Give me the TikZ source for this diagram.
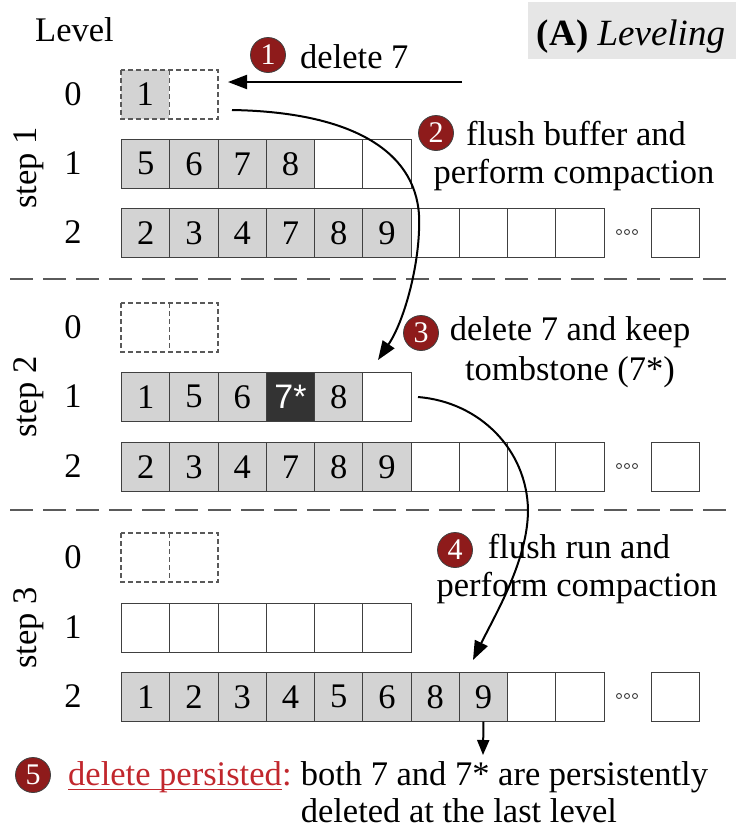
\documentclass[tikz,border=0pt]{standalone}
\usepackage{fontspec}
\setmainfont{Liberation Serif}
\setsansfont{Liberation Sans}
\usetikzlibrary{arrows.meta}
\definecolor{cellgray}{HTML}{D3D3D3}
\definecolor{celldark}{HTML}{333333}
\definecolor{cellline}{HTML}{404040}
\definecolor{circred}{HTML}{8E1B1B}
\definecolor{txtred}{HTML}{C1272D}
\definecolor{titlegray}{HTML}{E6E6E6}
\definecolor{sepgray}{HTML}{5A5A5A}
\begin{document}
\begin{tikzpicture}[x=1pt,y=-1pt,
  every node/.style={inner sep=0pt, font=\fontsize{34.5}{37}\selectfont},
  cellbox/.style={draw=cellline, line width=1.2pt, minimum width=48.25pt, minimum height=48.5pt, anchor=north west},
  graycell/.style={cellbox, fill=cellgray},
  darkcell/.style={cellbox, fill=celldark, text=white, font=\sffamily\fontsize{34}{34}\selectfont},
  bufcell/.style={minimum width=48.25pt, minimum height=48.5pt, anchor=north west},
  bufline/.style={draw=black!65, line width=1.4pt, dash pattern=on 5pt off 3pt},
  lastcell/.style={cellbox, minimum width=48pt},
  numcirc/.style={circle, fill=circred, draw=black!75, line width=0.8pt, text=white, minimum size=35pt, font=\fontsize{30}{30}\selectfont},
  seprule/.style={draw=sepgray, line width=1.6pt, dash pattern=on 23pt off 10pt},
  dotmark/.style={circle, draw=cellline, line width=0.9pt, minimum size=5pt},
  arr/.style={draw=black, line width=2pt, -{Triangle[length=19pt,width=14pt]}},
  smallarr/.style={draw=black, line width=2pt, -{Triangle[length=15pt,width=12pt]}},
  lab/.style={anchor=base}
]
\useasboundingbox (0,0) rectangle (736,831);

% title
\node[fill=titlegray, minimum width=208pt, minimum height=57pt] (tbox) at (632,30.5) {};
\node[lab, font=\fontsize{37}{40}\selectfont] (title) at (631,45) {\textbf{(A)} \textit{Leveling}};

% level header
\node[anchor=base west] (lvl) at (35,41) {Level};

% separators
\coordinate (sepAl) at (10,279); \coordinate (sepAr) at (736,279);
\coordinate (sepBl) at (10,510); \coordinate (sepBr) at (736,510);
\draw[seprule] (sepAl) -- (sepAr);
\draw[seprule] (sepBl) -- (sepBr);

% step labels
\node[rotate=90] (st1) at (29,168) {step 1};
\node[rotate=90] (st2) at (29,397) {step 2};
\node[rotate=90] (st3) at (29,628) {step 3};

% level numbers
\foreach \s/\a/\b/\c in {1/70/139/208, 2/303/372/442, 3/533/603/672}{
  \node (n\s a) at (73,\a+24.25) {0};
  \node (n\s b) at (73,\b+24.25) {1};
  \node (n\s c) at (73,\c+24.25) {2};
}

% ---------- buffers (level 0) ----------
\node[bufcell, fill=cellgray] (s1r0c0) at (121,70) {1};
\node[bufcell] (s1r0c1) at (169.25,70) {};
\node[bufcell] (s2r0c0) at (121,303) {};
\node[bufcell] (s2r0c1) at (169.25,303) {};
\node[bufcell] (s3r0c0) at (121,533) {};
\node[bufcell] (s3r0c1) at (169.25,533) {};
\foreach \s in {1,2,3}{
  \draw[bufline] (s\s r0c0.north west) rectangle (s\s r0c1.south east);
  \draw[bufline] (s\s r0c0.north east) -- (s\s r0c0.south east);
}

% ---------- step 1 ----------
\foreach \t [count=\i from 0] in {5,6,7,8}
  \node[graycell] (s1r1c\i) at ({121+48.25*\i},139) {\t};
\foreach \i in {4,5}
  \node[cellbox] (s1r1c\i) at ({121+48.25*\i},139) {};
\foreach \t [count=\i from 0] in {2,3,4,7,8,9}
  \node[graycell] (s1r2c\i) at ({121+48.25*\i},208) {\t};
\foreach \i in {6,...,9}
  \node[cellbox] (s1r2c\i) at ({121+48.25*\i},208) {};
\node[lastcell] (s1r2z) at (651,208) {};
\foreach \k in {0,1,2}
  \node[dotmark] (s1d\k) at ({619+8*\k},232) {};

% ---------- step 2 ----------
\foreach \t [count=\i from 0] in {1,5,6}
  \node[graycell] (s2r1c\i) at ({121+48.25*\i},372) {\t};
\node[darkcell] (s2r1c3) at ({121+48.25*3},372) {7*};
\node[graycell] (s2r1c4) at ({121+48.25*4},372) {8};
\node[cellbox] (s2r1c5) at ({121+48.25*5},372) {};
\foreach \t [count=\i from 0] in {2,3,4,7,8,9}
  \node[graycell] (s2r2c\i) at ({121+48.25*\i},442) {\t};
\foreach \i in {6,...,9}
  \node[cellbox] (s2r2c\i) at ({121+48.25*\i},442) {};
\node[lastcell] (s2r2z) at (651,442) {};
\foreach \k in {0,1,2}
  \node[dotmark] (s2d\k) at ({619+8*\k},466) {};

% ---------- step 3 ----------
\foreach \i in {0,...,5}
  \node[cellbox] (s3r1c\i) at ({121+48.25*\i},603) {};
\foreach \t [count=\i from 0] in {1,2,3,4,5,6,8,9}
  \node[graycell] (s3r2c\i) at ({121+48.25*\i},672) {\t};
\foreach \i in {8,9}
  \node[cellbox] (s3r2c\i) at ({121+48.25*\i},672) {};
\node[lastcell] (s3r2z) at (651,672) {};
\foreach \k in {0,1,2}
  \node[dotmark] (s3d\k) at ({619+8*\k},696) {};

% ---------- annotations ----------
\node[numcirc] (c1) at (268,55) {1};
\node[anchor=base west] (t1) at (300,68) {delete 7};

\node[numcirc] (c2) at (436,133) {2};
\node[lab] (t2a) at (576,145) {flush buffer and};
\node[lab] (t2b) at (574,183) {perform compaction};

\node[numcirc] (c3) at (421,333) {3};
\node[lab] (t3a) at (570,340) {delete 7 and keep};
\node[lab] (t3b) at (570,380) {tombstone (7*)};

\node[numcirc] (c4) at (455,550) {4};
\node[lab] (t4a) at (579,558) {flush run and};
\node[lab] (t4b) at (577,596) {perform compaction};

\node[numcirc] (c5) at (33,775) {5};
\node[anchor=base west, text=txtred] (dp) at (68,785) {delete persisted};
\node[anchor=base west, text=txtred] (colon) at (dp.base east) {:};
\node[anchor=base west] (t5a) at ([xshift=8.6pt]colon.base east) {both 7 and 7* are persistently};
\node[anchor=base west] (t5b) at ([yshift=-37pt]t5a.base west) {deleted at the last level};
\draw[txtred, line width=1.3pt] ([yshift=-4.5pt]dp.base west) -- ([yshift=-4.5pt]dp.base east);

% ---------- arrows ----------
\coordinate (a1s) at (462,82);
\coordinate (a1e) at (228,82);
\draw[arr] (a1s) -- (a1e);

\coordinate (a2s) at (232,110);
\coordinate (a2m) at (419,215);
\coordinate (a2e) at (378,360);
\draw[arr] (a2s) .. controls (350,112) and (415,150) .. (a2m)
                 .. controls (421,260) and (405,320) .. (a2e);

\coordinate (a3s) at (418,397);
\coordinate (a3m) at (528,510);
\coordinate (a3e) at (473,660);
\draw[arr] (a3s) .. controls (480,402) and (527,450) .. (a3m)
                 .. controls (528,560) and (495,615) .. (a3e);

\coordinate (a4e) at (483,755);
\draw[smallarr] (s3r2c7.south) -- (a4e);
\end{tikzpicture}
\end{document}
